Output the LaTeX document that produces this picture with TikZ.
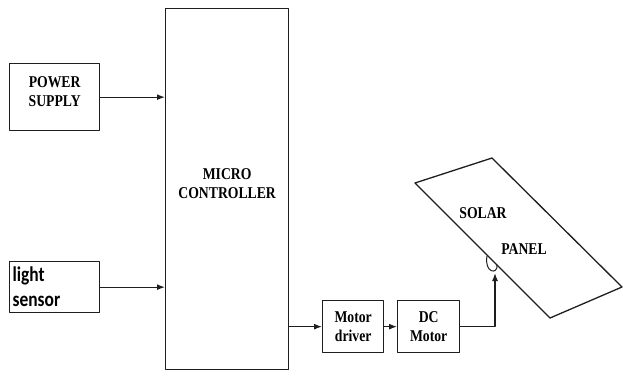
\documentclass[tikz,border=0pt]{standalone}
\usepackage{fontspec}
\setmainfont{Liberation Serif}[FakeStretch=0.83]
\newfontfamily\sensorfont{Carlito}[FakeStretch=0.83]
\usetikzlibrary{arrows.meta}
\newcommand{\Unit}{1pt}
\newcommand{\Edge}{1.3pt}
\definecolor{ink}{HTML}{1E1E1E}
\tikzset{
  block/.style={draw=ink, line width=\Edge, inner sep=2pt, align=center,
    font=\bfseries\fontsize{16.5}{19}\selectfont},
  feed/.style={draw=ink, line width=\Edge, -{Latex[length=8pt,width=6pt]}}
}

\begin{document}
\begin{tikzpicture}[x=\Unit,y=-\Unit, line join=round, line cap=round]
  \useasboundingbox (0,0) rectangle (623,376);

  % ---- inputs on the left -------------------------------------------------
  \node[block, anchor=north west, minimum width=90pt, minimum height=67pt,
    text depth=12pt] (power) at (9,63) {POWER\\SUPPLY};
  \node[block, anchor=north west, minimum width=90pt, minimum height=51pt,
    text width=84pt, align=left, font=\sensorfont\bfseries\fontsize{21}{25}\selectfont]
    (sensor) at (9,261) {light\\sensor};

  % ---- the controller -----------------------------------------------------
  \node[block, anchor=north west, minimum width=123pt, minimum height=361pt,
    text depth=12pt] (mcu) at (165,8) {MICRO\\CONTROLLER};

  % ---- drive chain --------------------------------------------------------
  \node[block, anchor=north west, minimum width=61pt, minimum height=52pt]
    (driver) at (322,300) {Motor\\driver};
  \node[block, anchor=north west, minimum width=62pt, minimum height=52pt]
    (motor) at (397,300) {DC\\Motor};

  % ---- the panel, tilted --------------------------------------------------
  \coordinate (p1) at (415,183);
  \coordinate (p2) at (492,158);
  \coordinate (p3) at (622,287);
  \coordinate (p4) at (550,318);
  \draw[ink, line width=\Edge] (p1) -- (p2) -- (p3) -- (p4) -- cycle;
  \node[font=\bfseries\fontsize{16.5}{19}\selectfont] (solar) at (483,213) {SOLAR};
  \node[font=\bfseries\fontsize{16.5}{19}\selectfont] (panel) at (524,249) {PANEL};
  % the hinge under the panel edge
  \draw[ink, line width=1pt] (487,256) .. controls (484,273) and (498,275) .. (497,265);
  \coordinate (hinge) at (495,273);

  % ---- connectors ---------------------------------------------------------
  \draw[feed] (power.east) -- (power.east -| mcu.west);
  \draw[feed] (sensor.east) -- (sensor.east -| mcu.west);
  \draw[feed] (mcu.east |- driver.west) -- (driver.west);
  \draw[feed] (driver.east) -- (motor.west);
  \draw[feed] (motor.east) -| (hinge);

\end{tikzpicture}
\end{document}
